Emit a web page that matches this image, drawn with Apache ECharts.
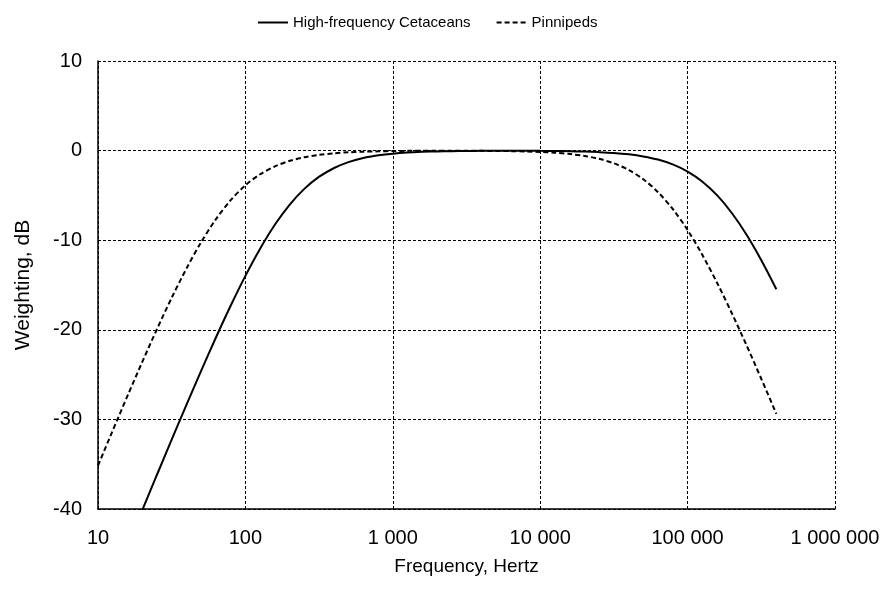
<!DOCTYPE html>
<html>
<head>
<meta charset="utf-8">
<script src="https://cdn.jsdelivr.net/npm/echarts@6/dist/echarts.min.js"></script>
<style>html,body{margin:0;padding:0;background:#fff}#chart{width:885px;height:589px}</style>
</head>
<body>
<div id="chart"></div>
<script>
// Frequencies (Hz), third-octave steps
const freqHF = [20,25,31.5,40,50,63,80,100,125,160,200,250,315,400,500,630,800,1000,1250,1600,2000,2500,3150,4000,5000,6300,8000,10000,12500,16000,20000,25000,31500,40000,50000,63000,80000,100000,125000,160000,200000,250000,315000,400000];
const hfValues = [-40.09,-36.26,-32.32,-28.30,-24.61,-20.89,-17.21,-13.98,-11.03,-8.17,-6.02,-4.30,-2.94,-1.94,-1.29,-0.83,-0.53,-0.34,-0.22,-0.14,-0.09,-0.06,-0.04,-0.03,-0.02,-0.02,-0.02,-0.03,-0.04,-0.07,-0.11,-0.17,-0.26,-0.42,-0.65,-1.00,-1.57,-2.34,-3.42,-5.06,-6.99,-9.33,-12.18,-15.47];
const freqPW = [10,12.5,16,20,25,31.5,40,50,63,80,100,125,160,200,250,315,400,500,630,800,1000,1250,1600,2000,2500,3150,4000,5000,6300,8000,10000,12500,16000,20000,25000,31500,40000,50000,63000,80000,100000,125000,160000,200000,250000,315000,400000];
const pwValues = [-35.16,-31.36,-27.22,-23.56,-20.00,-16.48,-13.10,-10.24,-7.67,-5.48,-3.88,-2.67,-1.73,-1.14,-0.75,-0.48,-0.30,-0.19,-0.12,-0.08,-0.05,-0.03,-0.02,-0.02,-0.02,-0.02,-0.03,-0.04,-0.06,-0.10,-0.15,-0.24,-0.39,-0.60,-0.92,-1.41,-2.17,-3.19,-4.64,-6.60,-8.87,-11.55,-14.89,-18.18,-21.66,-25.41,-29.38];
const seriesNames = ['High-frequency Cetaceans','Pinnipeds'];
const xTicks = [10,100,1000,10000,100000,1000000];
const yTicks = [-40,-30,-20,-10,0,10];

const FONT = 'Liberation Sans, Arial, sans-serif';
const chart = echarts.init(document.getElementById('chart'));
function fmt(v){ return String(Math.round(v)).replace(/\B(?=(\d{3})+(?!\d))/g,' '); }
chart.setOption({
  animation:false,
  backgroundColor:'#fff',
  textStyle:{fontFamily:FONT,color:'#000'},
  legend:{
    top:10,left:252,itemWidth:30,itemHeight:12,itemGap:25,
    itemStyle:{opacity:0},
    textStyle:{fontFamily:FONT,fontSize:15,color:'#000'},
    data:seriesNames
  },
  grid:{left:98,right:50,top:61,bottom:80,containLabel:false},
  xAxis:{
    type:'log',logBase:10,min:xTicks[0],max:xTicks[xTicks.length-1],
    name:'Frequency, Hertz',nameLocation:'middle',nameGap:48,
    nameTextStyle:{fontFamily:FONT,fontSize:19,color:'#000'},
    axisLine:{show:true,onZero:false,lineStyle:{color:'#000',width:1.5}},
    axisTick:{show:false},
    axisLabel:{fontFamily:FONT,fontSize:20,color:'#000',margin:19,formatter:fmt},
    splitLine:{show:true,lineStyle:{color:'#000',width:1,type:[3,2]}},
    minorTick:{show:false},minorSplitLine:{show:false}
  },
  yAxis:{
    type:'value',min:yTicks[0],max:yTicks[yTicks.length-1],interval:10,
    name:'Weighting, dB',nameLocation:'middle',nameGap:64,
    nameTextStyle:{fontFamily:FONT,fontSize:21,color:'#000'},
    axisLine:{show:true,onZero:false,lineStyle:{color:'#000',width:1.5}},
    axisTick:{show:false},
    axisLabel:{fontFamily:FONT,fontSize:20,color:'#000',margin:16},
    splitLine:{show:true,lineStyle:{color:'#000',width:1,type:[3,2]}}
  },
  series:[
    {name:seriesNames[0],type:'line',symbol:'none',smooth:0.3,
     lineStyle:{color:'#000',width:2,type:'solid'},itemStyle:{color:'#000'},
     data:freqHF.map((f,i)=>[f,hfValues[i]])},
    {name:seriesNames[1],type:'line',symbol:'none',smooth:0.3,
     lineStyle:{color:'#000',width:2,type:[5,3]},itemStyle:{color:'#000'},
     data:freqPW.map((f,i)=>[f,pwValues[i]])}
  ]
});
</script>
</body>
</html>
